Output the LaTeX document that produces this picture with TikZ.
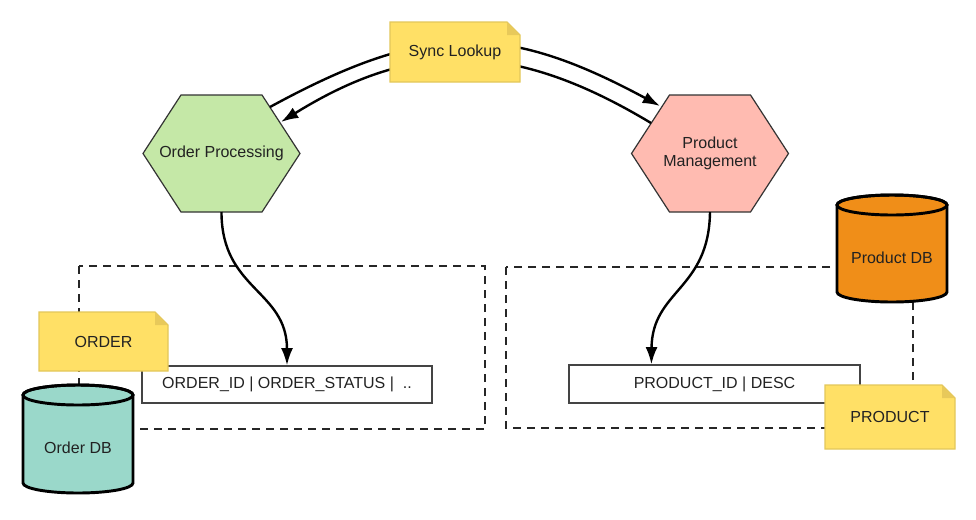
\documentclass[tikz,border=0pt]{standalone}
\usepackage{fontspec}
\setmainfont{Liberation Sans}
\usetikzlibrary{arrows.meta,calc}
\definecolor{notefill}{HTML}{FFE066}
\definecolor{noteline}{HTML}{E3C75A}
\definecolor{notefold}{HTML}{E8C95A}
\definecolor{opfill}{HTML}{C5E8A7}
\definecolor{pmfill}{HTML}{FFBBB1}
\definecolor{odbfill}{HTML}{9AD8CA}
\definecolor{pdbfill}{HTML}{F08E18}
\definecolor{txt}{HTML}{222222}
\definecolor{boxline}{HTML}{444444}
\newcommand{\mynote}[6]{%
  \path[fill=notefill,draw=noteline,line width=0.9pt]
    (#2-#4/2,#3-#5/2) -- (#2+#4/2-13,#3-#5/2) -- (#2+#4/2,#3-#5/2+13)
    -- (#2+#4/2,#3+#5/2) -- (#2-#4/2,#3+#5/2) -- cycle;
  \fill[notefold] (#2+#4/2-13,#3-#5/2) -- (#2+#4/2-13,#3-#5/2+13) -- (#2+#4/2,#3-#5/2+13) -- cycle;
  \node[lbl] (#1) at (#2,#3) {#6};}
\newcommand{\myhex}[5]{%
  \path[draw=black!80,line width=0.9pt,fill=#4]
    (#2-78.5,#3) -- (#2-40.5,#3-58.5) -- (#2+40.5,#3-58.5) -- (#2+78.5,#3)
    -- (#2+40.5,#3+58.5) -- (#2-40.5,#3+58.5) -- cycle;
  \node[lbl,align=center] (#1) at (#2,#3) {#5};}
\newcommand{\mycyl}[6]{% name, cx, ytop, ybot, fill, text
  \path[draw=black,line width=2.2pt,fill=#5]
    (#2-55,#3) -- (#2-55,#4) arc[start angle=180,end angle=360,x radius=41.25pt,y radius=7.5pt]
    -- (#2+55,#3) arc[start angle=0,end angle=180,x radius=41.25pt,y radius=7.5pt] -- cycle;
  \draw[line width=2.2pt] (#2,#3) ellipse[x radius=41.25pt,y radius=7.5pt];
  \node[lbl] (#1) at (#2,{(#3+#4)/2+9}) {#6};}
\begin{document}
\begin{tikzpicture}[x=0.75pt,y=-0.75pt,
  lbl/.style={font=\fontsize{12}{14}\selectfont,text=txt,inner sep=0pt},
  dashbox/.style={draw=black!85,line width=1.1pt,dash pattern=on 6pt off 4.5pt},
  tablebox/.style={draw=boxline,line width=0.9pt,fill=white,minimum width=290*0.75pt,minimum height=37*0.75pt,inner sep=0pt,font=\fontsize{12}{14}\selectfont,text=txt},
  conn/.style={line width=1.8pt,-{Latex[length=13pt,width=9pt]}},
  plain/.style={line width=1.8pt}]
\useasboundingbox[fill=white] (0,0) rectangle (976,519);
% dashed groups
\draw[dashbox] (79,266) rectangle (485,429);
\draw[dashbox] (506,267) rectangle (913,428);
% tables
\node[tablebox] (oid) at (287,384.5) {ORDER\_ID | ORDER\_STATUS | \ ..};
\node[tablebox,minimum width=291*0.75pt,minimum height=38*0.75pt] (pid) at (714.5,384) {PRODUCT\_ID | DESC};
% hexagons
\myhex{op}{221.5}{153.5}{opfill}{Order Processing}
\myhex{pm}{710}{153.5}{pmfill}{Product\\[0pt]Management}
% S connectors
\draw[conn] (op.center |- 0,212) .. controls (221.5,290) and (287,290) .. (oid.north);
\coordinate (pidin) at ($(pid.north west)+(83,0)$);
\draw[conn] (pm.center |- 0,212) .. controls (709,290) and (652,290) .. (pidin);
% notes on tables
\mynote{ordernote}{103.5}{341.5}{129}{59}{ORDER}
\mynote{productnote}{890}{417}{130}{64}{PRODUCT}
% databases
\mycyl{odb}{78}{395}{483}{odbfill}{Order DB}
\mycyl{pdb}{892}{205}{292}{pdbfill}{Product DB}
% sync arcs
\coordinate (opA) at (270,107);
\coordinate (pmA) at (660,106);
\coordinate (pmB) at (651,123);
\coordinate (opB) at (281,122);
\draw[conn] (opA) .. controls (426,22) and (504,22) .. (pmA);
\draw[conn] (pmB) .. controls (513,40) and (413,40) .. (opB);
\mynote{sync}{455}{52}{130}{60}{Sync Lookup}
\end{tikzpicture}
\end{document}
